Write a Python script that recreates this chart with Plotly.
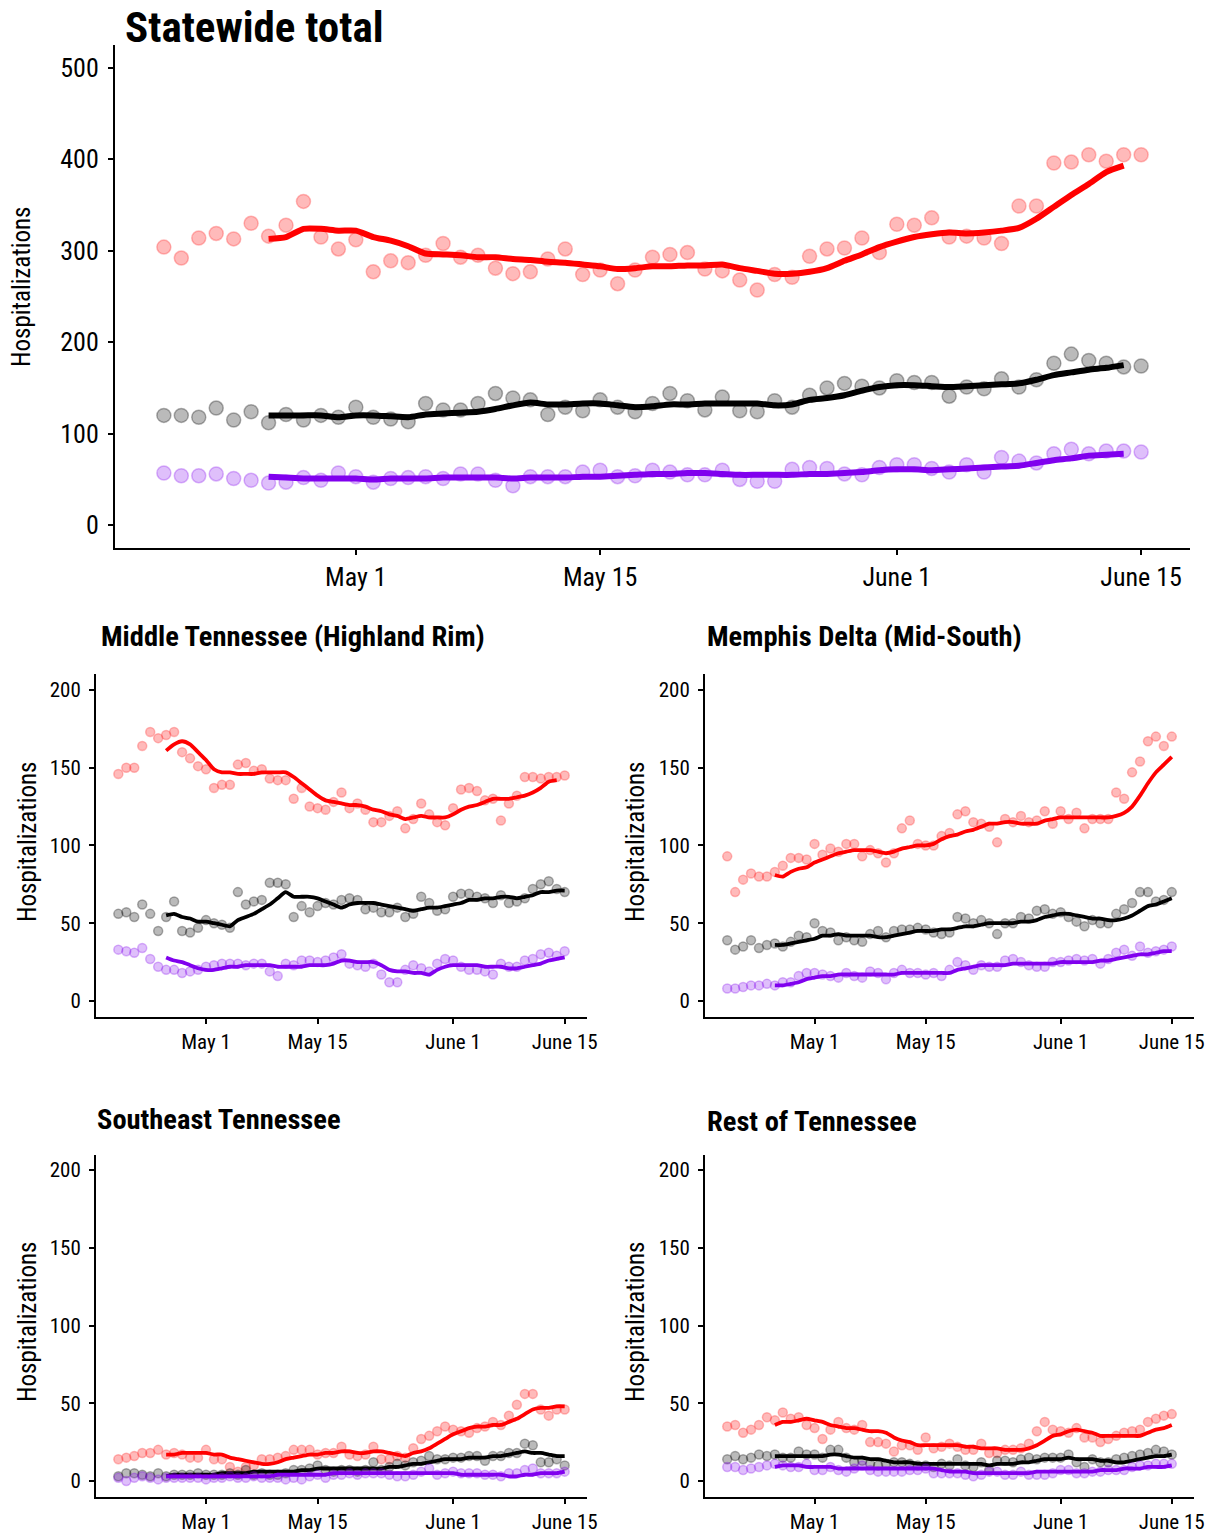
import pandas as pd
import plotly.graph_objects as go

W, H = 1216, 1535
FONT = "Roboto Condensed, Liberation Sans Narrow, Roboto, sans-serif"


def px(x):
    return x / W


def py(y):
    return 1 - y / H


dates = pd.date_range("2020-04-20", "2020-06-15", freq="D")
avg_dates = pd.date_range("2020-04-26", "2020-06-15", freq="D")

tick_dates = ["2020-05-01", "2020-05-15", "2020-06-01", "2020-06-15"]
tick_labels = ["May 1", "May 15", "June 1", "June 15"]

sw_red_pts = [304, 292, 314, 319, 313, 330, 316, 328, 354, 315, 302, 312, 277, 289, 287, 295, 308, 293, 295, 281,
              275, 277, 291, 302, 274, 279, 264, 279, 293, 296, 298, 280, 278, 268, 257, 274, 271, 294, 302, 303,
              314, 298, 329, 328, 336, 315, 316, 314, 308, 349, 349, 396, 397, 405, 398, 405, 405]
sw_red_avg = [313, 315, 324, 324, 322, 322, 315, 311, 305, 297, 296, 295, 293, 293, 291, 290, 288, 287, 285, 283,
              280, 281, 283, 283, 284, 284, 285, 281, 278, 275, 275, 277, 281, 289, 296, 304, 310, 315, 318, 320,
              319, 320, 322, 325, 335, 348, 361, 373, 386, 393]
sw_blk_pts = [120, 120, 118, 128, 115, 124, 112, 121, 115, 120, 118, 129, 118, 116, 113, 133, 126, 126, 133, 144,
              139, 137, 121, 129, 125, 137, 129, 124, 133, 144, 136, 126, 140, 125, 124, 136, 129, 142, 150, 155,
              152, 150, 158, 156, 156, 141, 151, 149, 160, 151, 159, 177, 187, 180, 177, 173, 174]
sw_blk_avg = [120, 120, 120, 120, 118, 120, 120, 119, 118, 121, 122, 123, 124, 127, 131, 134, 132, 132, 133, 133,
              131, 129, 130, 132, 132, 133, 133, 133, 133, 131, 132, 137, 139, 142, 147, 151, 153, 153, 152, 151,
              152, 153, 154, 155, 159, 164, 167, 170, 172, 175]
sw_pur_pts = [57, 54, 54, 56, 51, 49, 46, 47, 52, 49, 57, 53, 47, 51, 52, 53, 51, 56, 56, 49,
              43, 53, 53, 53, 58, 60, 53, 54, 60, 58, 55, 55, 60, 50, 48, 48, 61, 63, 62, 56,
              55, 63, 66, 66, 62, 58, 66, 58, 74, 70, 68, 78, 83, 78, 81, 81, 80]
sw_pur_avg = [53, 52, 51, 51, 51, 51, 50, 51, 51, 51, 52, 52, 52, 52, 51, 52, 52, 52, 53, 53,
              54, 55, 56, 56, 57, 57, 56, 55, 55, 55, 55, 56, 56, 57, 58, 60, 61, 61, 60, 61,
              62, 63, 64, 65, 68, 71, 73, 76, 77, 78]

mt_red_pts = [146, 150, 150, 164, 173, 169, 171, 173, 160, 156, 151, 149, 137, 139, 139, 152, 153, 148, 149, 143,
              142, 142, 130, 137, 125, 124, 123, 128, 134, 124, 127, 123, 115, 115, 119, 122, 111, 117, 127, 120,
              115, 113, 124, 136, 137, 135, 129, 130, 116, 127, 132, 144, 144, 143, 144, 144, 145]
mt_red_avg = [161, 165, 167, 165, 160, 155, 149, 147, 147, 146, 146, 146, 147, 147, 147, 147, 144, 140, 136, 132,
              129, 128, 127, 126, 126, 125, 123, 122, 120, 119, 117, 118, 119, 118, 118, 118, 120, 123, 125, 126,
              128, 130, 130, 130, 131, 132, 134, 137, 141, 142]
mt_blk_pts = [56, 57, 54, 62, 56, 45, 54, 64, 45, 44, 47, 52, 50, 49, 47, 70, 62, 64, 65, 76,
              76, 75, 54, 61, 57, 61, 63, 62, 65, 66, 65, 59, 60, 57, 57, 60, 54, 56, 67, 63,
              58, 59, 67, 69, 69, 67, 66, 63, 68, 63, 64, 66, 72, 75, 77, 72, 70]
mt_blk_avg = [55, 56, 54, 53, 51, 51, 50, 49, 48, 52, 54, 56, 59, 62, 66, 70, 67, 67, 67, 66,
              64, 62, 60, 62, 63, 63, 63, 62, 61, 60, 59, 58, 59, 60, 60, 61, 62, 63, 65, 65,
              66, 66, 67, 67, 66, 67, 68, 70, 70, 71, 71]
mt_pur_pts = [33, 32, 31, 34, 27, 22, 20, 20, 18, 19, 20, 22, 23, 24, 24, 24, 23, 24, 24, 19,
              16, 24, 23, 26, 26, 25, 26, 28, 30, 24, 23, 22, 24, 17, 12, 12, 20, 23, 21, 19,
              24, 27, 26, 22, 20, 20, 19, 17, 24, 22, 22, 26, 27, 30, 31, 29, 32]
mt_pur_avg = [28, 26, 25, 23, 21, 20, 20, 21, 22, 22, 23, 23, 23, 23, 22, 22, 22, 22, 23, 23,
              23, 24, 26, 26, 25, 25, 25, 23, 20, 19, 19, 18, 18, 17, 20, 22, 23, 23, 23, 23,
              22, 22, 22, 21, 21, 22, 23, 24, 26, 27, 28]

md_red_pts = [93, 70, 78, 82, 80, 80, 83, 87, 92, 92, 91, 101, 94, 98, 96, 101, 101, 93, 97, 95,
              89, 95, 111, 116, 101, 100, 100, 106, 108, 120, 122, 115, 114, 112, 102, 117, 115, 119, 115, 116,
              122, 114, 122, 117, 121, 111, 117, 117, 117, 134, 130, 147, 154, 167, 170, 164, 170]
md_red_avg = [81, 80, 83, 85, 86, 89, 91, 93, 95, 96, 97, 97, 97, 96, 95, 96, 98, 99, 100, 100,
              101, 104, 106, 107, 109, 110, 112, 114, 114, 115, 115, 114, 114, 114, 116, 117, 118, 118, 118, 118,
              118, 118, 118, 119, 121, 125, 132, 140, 147, 152, 157]
md_blk_pts = [39, 33, 35, 39, 34, 36, 37, 35, 38, 42, 41, 50, 45, 44, 39, 41, 39, 38, 43, 45,
              41, 45, 46, 46, 47, 46, 44, 43, 44, 54, 53, 50, 52, 50, 43, 50, 50, 54, 53, 58,
              59, 56, 57, 54, 51, 48, 52, 50, 50, 56, 59, 63, 70, 70, 64, 65, 70]
md_blk_avg = [36, 36, 37, 38, 39, 40, 42, 42, 43, 42, 42, 42, 42, 41, 41, 42, 43, 44, 45, 45,
              45, 46, 46, 47, 48, 48, 49, 50, 50, 50, 50, 51, 51, 52, 54, 55, 56, 56, 55, 54,
              53, 53, 52, 52, 53, 55, 58, 61, 62, 64, 66]
md_pur_pts = [8, 8, 9, 10, 10, 11, 10, 12, 12, 16, 18, 18, 17, 16, 15, 18, 16, 15, 19, 18,
              14, 18, 20, 18, 18, 17, 18, 16, 20, 25, 23, 20, 23, 22, 22, 26, 27, 25, 23, 22,
              22, 25, 25, 26, 27, 26, 27, 24, 27, 31, 33, 29, 35, 31, 32, 33, 35]
md_pur_avg = [10, 10, 11, 12, 14, 15, 16, 16, 17, 17, 17, 17, 17, 17, 17, 17, 18, 18, 18, 18,
              18, 18, 18, 20, 21, 22, 23, 23, 23, 23, 24, 24, 24, 24, 24, 24, 25, 25, 25, 25,
              25, 26, 26, 27, 28, 29, 30, 30, 31, 32, 32]

se_red_pts = [14, 15, 16, 18, 18, 20, 17, 18, 17, 15, 15, 20, 14, 14, 9, 6, 9, 10, 14, 14,
              15, 16, 20, 20, 20, 17, 18, 18, 22, 17, 16, 17, 22, 14, 14, 16, 15, 21, 27, 29,
              32, 35, 33, 32, 31, 34, 35, 38, 36, 42, 49, 56, 56, 46, 42, 46, 46]
se_red_avg = [17, 17, 18, 18, 18, 18, 17, 17, 15, 14, 13, 12, 11, 11, 12, 14, 15, 16, 17, 17,
              18, 18, 19, 19, 18, 18, 19, 19, 18, 17, 16, 18, 19, 21, 24, 27, 30, 32, 34, 35,
              35, 36, 36, 38, 40, 43, 46, 47, 47, 48, 48]
se_blk_pts = [3, 5, 5, 4, 3, 5, 3, 4, 4, 4, 5, 4, 4, 4, 5, 4, 7, 4, 5, 4,
              4, 5, 7, 7, 8, 10, 7, 6, 7, 7, 6, 7, 12, 7, 9, 11, 10, 12, 13, 16,
              14, 14, 15, 15, 16, 16, 13, 16, 16, 18, 18, 24, 23, 12, 12, 14, 10]
se_blk_avg = [3, 4, 4, 4, 4, 4, 4, 5, 5, 5, 5, 6, 6, 6, 6, 6, 6, 7, 7, 8,
              8, 8, 8, 8, 8, 8, 8, 8, 9, 9, 10, 11, 11, 12, 13, 14, 14, 14, 15, 15,
              15, 16, 16, 17, 18, 19, 18, 18, 17, 16, 16]
se_pur_pts = [2, 0, 2, 3, 2, 1, 2, 2, 2, 2, 2, 1, 2, 2, 3, 2, 2, 3, 2, 2,
              2, 1, 2, 1, 3, 4, 2, 4, 4, 5, 4, 5, 5, 5, 4, 3, 3, 4, 6, 8,
              4, 5, 6, 5, 5, 5, 4, 4, 3, 5, 5, 7, 8, 5, 5, 5, 6]
se_pur_avg = [3, 3, 3, 3, 3, 3, 3, 3, 3, 3, 3, 3, 3, 3, 4, 4, 4, 4, 4, 4,
              4, 5, 5, 5, 5, 5, 5, 5, 5, 5, 5, 5, 5, 5, 5, 5, 5, 4, 4, 4,
              4, 4, 4, 3, 3, 4, 4, 5, 5, 5, 6]

rt_red_pts = [35, 36, 31, 33, 36, 41, 39, 44, 40, 41, 36, 34, 27, 33, 38, 34, 33, 36, 25, 25,
              24, 19, 23, 23, 20, 28, 21, 22, 24, 22, 20, 20, 24, 18, 18, 20, 20, 21, 24, 32,
              38, 33, 32, 31, 34, 28, 28, 25, 27, 29, 31, 32, 33, 38, 40, 42, 43]
rt_red_avg = [36, 38, 38, 39, 40, 39, 38, 36, 35, 34, 34, 33, 32, 32, 31, 28, 26, 25, 23, 23,
              23, 23, 23, 23, 22, 22, 21, 21, 21, 20, 20, 20, 21, 23, 26, 29, 30, 32, 33, 32,
              31, 29, 29, 29, 29, 29, 29, 31, 33, 34, 36]
rt_blk_pts = [14, 16, 14, 15, 17, 16, 17, 15, 15, 19, 17, 17, 15, 20, 20, 15, 12, 13, 11, 10,
              11, 12, 12, 11, 10, 10, 9, 11, 10, 14, 10, 9, 12, 7, 13, 13, 12, 14, 15, 14,
              15, 15, 15, 17, 12, 9, 14, 12, 12, 14, 15, 16, 17, 18, 20, 19, 17]
rt_blk_avg = [16, 16, 16, 16, 16, 16, 16, 17, 17, 16, 15, 15, 14, 14, 13, 12, 12, 12, 11, 11,
              11, 11, 11, 11, 11, 11, 11, 10, 11, 11, 11, 12, 12, 13, 14, 14, 14, 15, 14, 14,
              14, 13, 13, 12, 12, 13, 14, 15, 16, 16, 17]
rt_pur_pts = [9, 9, 7, 8, 9, 10, 11, 10, 9, 9, 11, 7, 7, 9, 7, 6, 8, 10, 7, 6,
              6, 6, 6, 7, 7, 8, 5, 5, 5, 5, 4, 3, 4, 6, 6, 4, 4, 6, 4, 4,
              4, 5, 7, 7, 5, 5, 6, 6, 7, 7, 7, 9, 10, 10, 11, 11, 11]
rt_pur_avg = [9, 10, 10, 10, 9, 9, 9, 9, 8, 8, 8, 8, 8, 8, 8, 8, 8, 8, 8, 8,
              8, 7, 6, 6, 6, 5, 5, 5, 5, 5, 5, 5, 5, 6, 6, 6, 6, 6, 6, 6,
              6, 7, 7, 7, 8, 8, 8, 9, 9, 9, 10]

panels = [
    ("Statewide total", (sw_red_pts, sw_red_avg, sw_blk_pts, sw_blk_avg, sw_pur_pts, sw_pur_avg)),
    ("Middle Tennessee (Highland Rim)", (mt_red_pts, mt_red_avg, mt_blk_pts, mt_blk_avg, mt_pur_pts, mt_pur_avg)),
    ("Memphis Delta (Mid-South)", (md_red_pts, md_red_avg, md_blk_pts, md_blk_avg, md_pur_pts, md_pur_avg)),
    ("Southeast Tennessee", (se_red_pts, se_red_avg, se_blk_pts, se_blk_avg, se_pur_pts, se_pur_avg)),
    ("Rest of Tennessee", (rt_red_pts, rt_red_avg, rt_blk_pts, rt_blk_avg, rt_pur_pts, rt_pur_avg)),
]

# panel geometry in screenshot pixels: x0, x1, y_top, y_bottom, y_range, y_ticks
geom = [
    (115, 1190, 45, 548, [-25, 525], [0, 100, 200, 300, 400, 500]),
    (96, 587, 674.4, 1016.5, [-10, 210], [0, 50, 100, 150, 200]),
    (705, 1194, 674.4, 1016.5, [-10, 210], [0, 50, 100, 150, 200]),
    (96, 587, 1154.5, 1496.5, [-10, 210], [0, 50, 100, 150, 200]),
    (705, 1194, 1154.5, 1496.5, [-10, 210], [0, 50, 100, 150, 200]),
]
title_pos = [(123, 27, 43), (99, 636, 28.5), (705, 636, 28.5), (95, 1119, 28.5), (705, 1121, 28.5)]
ytitle_pos = [(22, 287), (27, 842), (635, 842), (27, 1322), (635, 1322)]

colors = {
    "red": ("#ff0000", "rgba(255,0,0,0.27)", "rgba(255,60,60,0.35)"),
    "blk": ("#000000", "rgba(0,0,0,0.27)", "rgba(0,0,0,0.30)"),
    "pur": ("#8000ee", "rgba(128,0,238,0.25)", "rgba(128,0,238,0.28)"),
}

fig = go.Figure()
x_range = [pd.Timestamp("2020-04-20") - pd.Timedelta(days=2.8), pd.Timestamp("2020-06-15") + pd.Timedelta(days=2.8)]

for i, ((title, series), g) in enumerate(zip(panels, geom)):
    n = "" if i == 0 else str(i + 1)
    big = i == 0
    msize = 14 if big else 9
    lwidth = 6 if big else 3.8
    tick_font = 26 if big else 21
    for key, pts, avg in (("red", series[0], series[1]), ("blk", series[2], series[3]), ("pur", series[4], series[5])):
        lc, fill, edge = colors[key]
        fig.add_trace(go.Scatter(x=dates, y=pts, mode="markers", xaxis="x" + n, yaxis="y" + n,
                                 marker=dict(size=msize, color=fill, line=dict(color=edge, width=1.5)),
                                 showlegend=False, hoverinfo="skip"))
        fig.add_trace(go.Scatter(x=avg_dates, y=avg, mode="lines", xaxis="x" + n, yaxis="y" + n,
                                 line=dict(color=lc, width=lwidth, shape="spline", smoothing=0.6),
                                 showlegend=False, hoverinfo="skip"))
    x0, x1, yt, yb, yr, yticks = g
    axis_common = dict(showline=True, linecolor="black", linewidth=2, ticks="outside", ticklen=5, tickwidth=2,
                       tickcolor="black", showgrid=False, zeroline=False, automargin=False,
                       tickfont=dict(family=FONT, size=tick_font, color="black"))
    fig.layout["xaxis" + n] = dict(domain=[px(x0), px(x1)], anchor="y" + n, range=x_range,
                                   tickvals=tick_dates, ticktext=tick_labels, **axis_common)
    fig.layout["yaxis" + n] = dict(domain=[py(yb), py(yt)], anchor="x" + n, range=yr,
                                   tickvals=yticks, ticklabelstandoff=4, **axis_common)
    tx, ty, ts = title_pos[i]
    fig.add_annotation(text="<b>" + title + "</b>", x=px(tx), y=py(ty), xref="paper", yref="paper",
                       xanchor="left", yanchor="middle", showarrow=False,
                       font=dict(family=FONT, size=ts, color="black"))
    ax, ay = ytitle_pos[i]
    fig.add_annotation(text="Hospitalizations", x=px(ax), y=py(ay), xref="paper", yref="paper",
                       xanchor="center", yanchor="middle", textangle=-90, showarrow=False,
                       font=dict(family=FONT, size=25, color="black"))

fig.update_layout(width=W, height=H, margin=dict(l=0, r=0, t=0, b=0, pad=0), template="none",
                  plot_bgcolor="white", paper_bgcolor="white", font=dict(family=FONT))
# remove the default page margin so the figure fills the window exactly
fig.write_html("out.html", config={"displayModeBar": False},
               post_script="document.body.style.margin='0px'; document.body.style.overflow='hidden';")
